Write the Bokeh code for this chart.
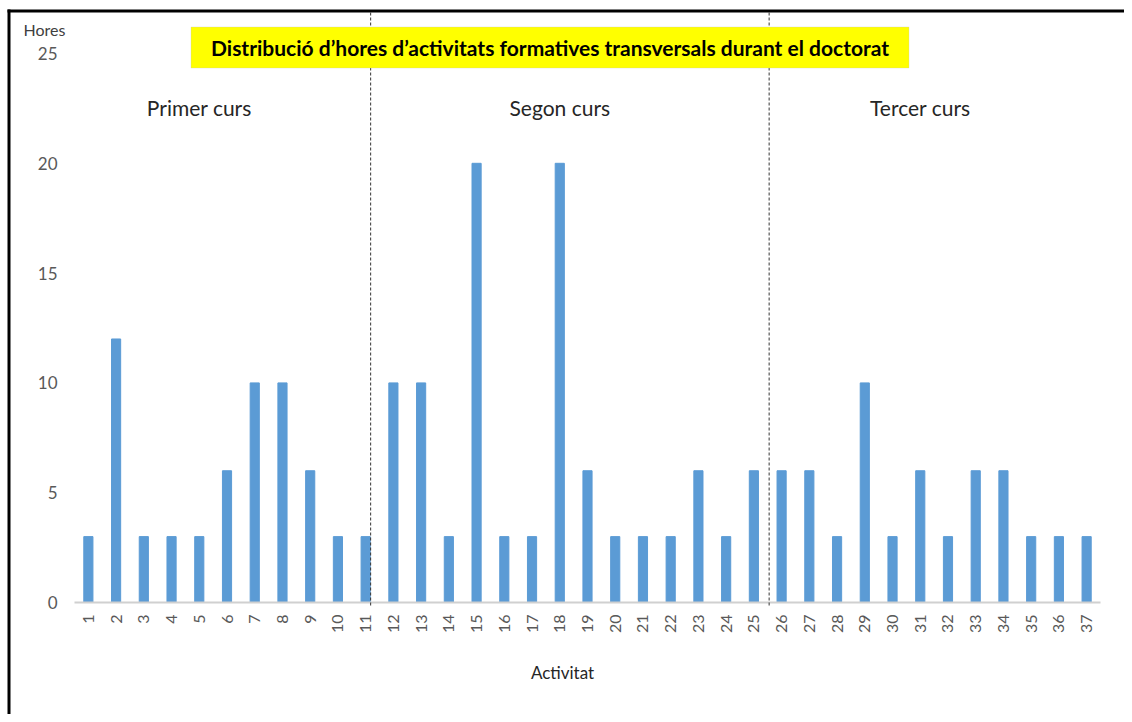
import math
from bokeh.plotting import figure
from bokeh.models import Range1d, BoxAnnotation, Label
from bokeh.embed import file_html
from bokeh.resources import INLINE
from bokeh.core.properties import value

# ---- data ----
activities = list(range(1, 38))
hours = [3, 12, 3, 3, 3, 6, 10, 10, 6, 3, 3,
         10, 10, 3, 20, 3, 3, 20, 6, 3, 3, 3, 6, 3, 6,
         6, 6, 3, 10, 3, 6, 3, 6, 6, 3, 3, 3]
tick_labels = [str(a) for a in activities]
y_ticks = [0, 5, 10, 15, 20, 25]
y_tick_labels = [str(t) for t in y_ticks]
section_names = ["Primer curs", "Segon curs", "Tercer curs"]
section_centers = [5, 18, 31]
section_breaks = [11.18, 25.55]
title_text = "Distribució d’hores d’activitats formatives transversals durant el doctorat"
y_title = "Hores"
x_title = "Activitat"

FONT = "Lato"
W, H = 1124, 714
PXX = 1026 / 37.0      # pixels per activity
PXY = 549 / 25.0       # pixels per hour


def X(px):
    return 0.5 + (px - 74) / PXX


def Y(py):
    return (602 - py) / PXY


p = figure(width=W, height=H, output_backend="svg", toolbar_location=None,
           x_range=Range1d(X(0), X(W)), y_range=Range1d(Y(H), Y(0)),
           x_axis_location=None, y_axis_location=None, min_border=0)
p.title.visible = False
p.outline_line_color = None
p.background_fill_color = "white"
p.border_fill_color = "white"
p.xgrid.visible = False
p.ygrid.visible = False

# outer border (left and top)
p.segment(x0=[X(8.5)], y0=[Y(9)], x1=[X(8.5)], y1=[Y(H + 5)], line_color="black", line_width=3)
p.segment(x0=[X(7)], y0=[Y(10.5)], x1=[X(W)], y1=[Y(10.5)], line_color="black", line_width=3)

# bars
p.vbar(x=activities, top=hours, width=0.33, color="#5B9BD5")

# x axis line
p.segment(x0=[0.5], y0=[0], x1=[37.5], y1=[0], line_color="#D0D0D0", line_width=2)

# section separators
p.segment(x0=section_breaks, y0=[Y(12)] * len(section_breaks),
          x1=section_breaks, y1=[Y(606)] * len(section_breaks),
          line_color="#333333", line_width=1, line_dash="3 2")

# x tick labels (rotated)
p.text(x=activities, y=[Y(614)] * len(activities), text=tick_labels,
       angle=math.pi / 2, text_align="right", text_baseline="middle",
       text_font=value(FONT), text_font_size="16px", text_color="#595959")

# y tick labels
p.text(x=[X(57)] * len(y_ticks), y=y_ticks, text=y_tick_labels,
       text_align="right", text_baseline="middle",
       text_font=value(FONT), text_font_size="17px", text_color="#595959")

# axis titles
p.text(x=[X(562)], y=[Y(672)], text=[x_title], text_align="center", text_baseline="middle",
       text_font=value(FONT), text_font_size="17px", text_color="#262626")
p.text(x=[X(23)], y=[Y(29)], text=[y_title], text_align="left", text_baseline="middle",
       text_font=value(FONT), text_font_size="16px", text_color="#404040")

# section names
p.text(x=section_centers, y=[Y(107)] * len(section_centers), text=section_names,
       text_align="center", text_baseline="middle",
       text_font=value(FONT), text_font_size="21px", text_color="#262626")

# title box
left, right, top, bottom = X(190.5), X(908.5), Y(26.5), Y(67.5)
p.add_layout(BoxAnnotation(left=left, right=right, top=top, bottom=bottom,
                           fill_color="#FFFF00", fill_alpha=1.0,
                           line_color="#BFBFBF", line_width=1))
p.add_layout(Label(x=(left + right) / 2, y=(top + bottom) / 2, text=title_text,
                   text_align="center", text_baseline="middle", text_font=FONT,
                   text_font_style="bold", text_font_size="21px", text_color="black"))

open("out.html", "w").write(file_html(p, INLINE))
